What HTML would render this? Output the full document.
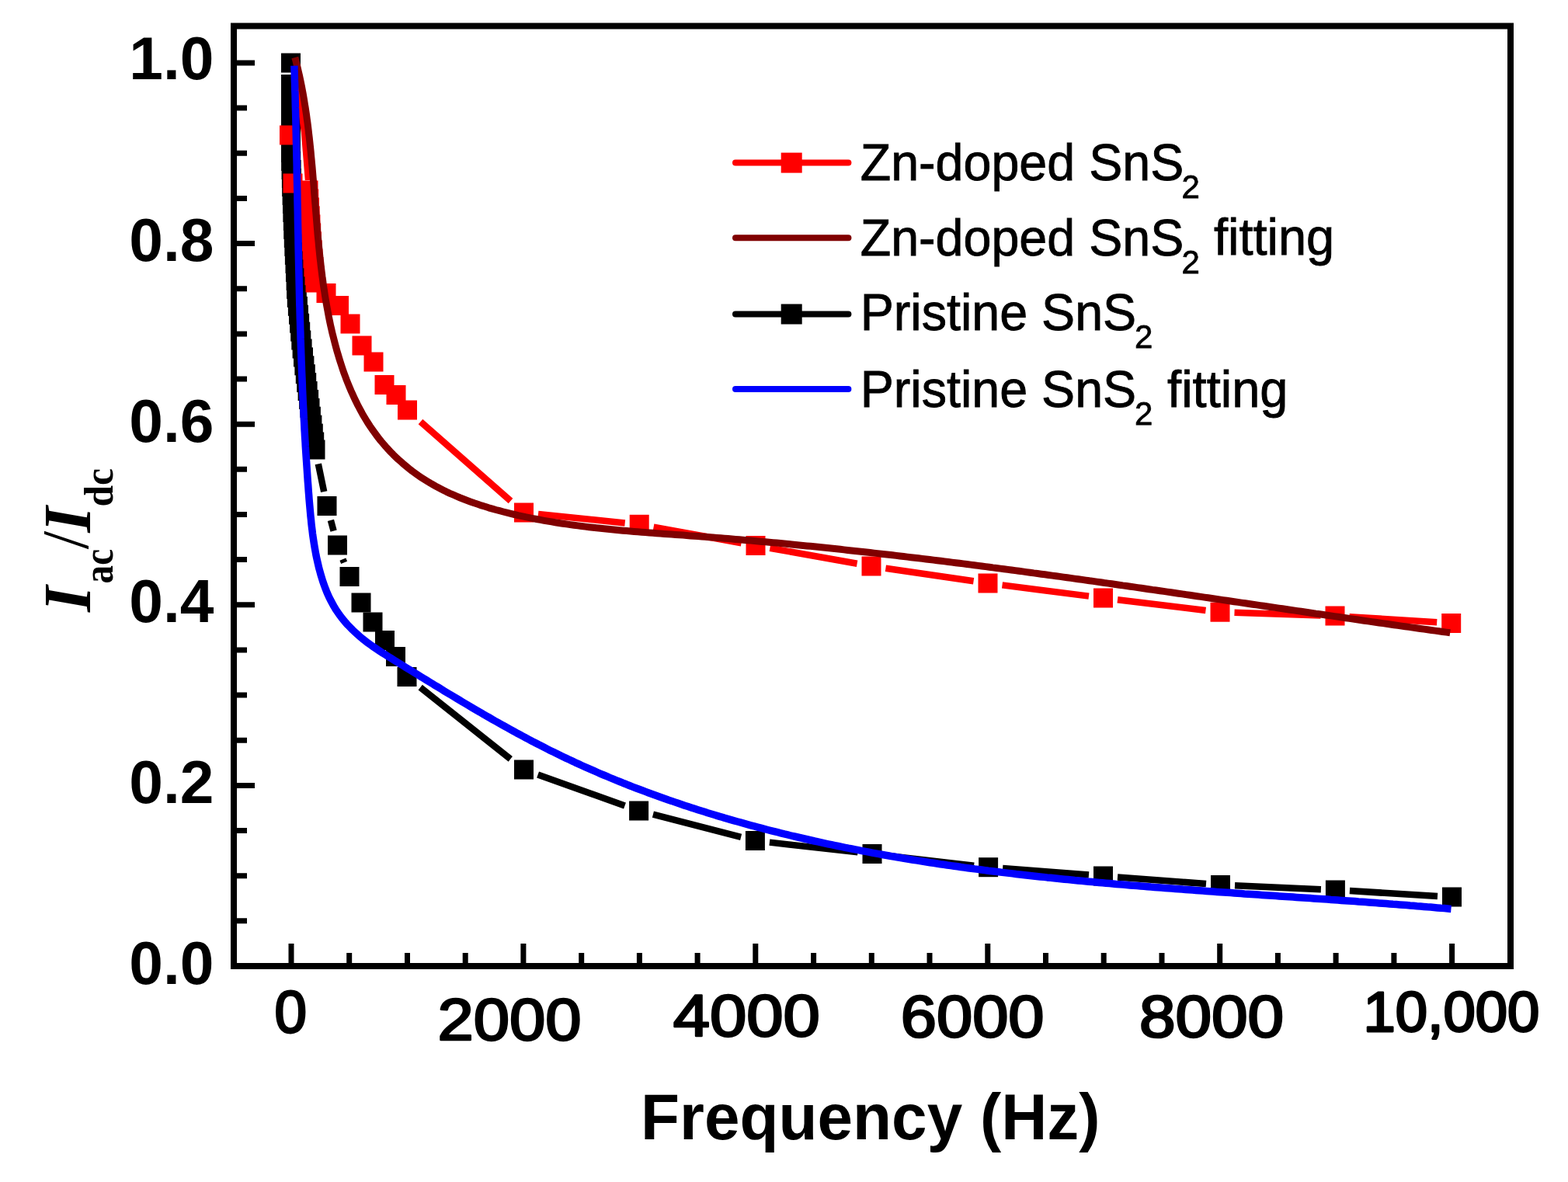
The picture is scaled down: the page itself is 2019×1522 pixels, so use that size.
<!DOCTYPE html>
<html><head><meta charset="utf-8"><title>Iac/Idc vs Frequency</title>
<style>html,body{margin:0;padding:0;background:#fff;}svg{display:block;}</style>
</head><body>
<svg width="2019" height="1522" viewBox="0 0 2019 1522">
<rect width="2019" height="1522" fill="#fff"/>
<rect x="301" y="33.5" width="1644" height="1210.5" fill="none" stroke="#000" stroke-width="8"/>
<path d="M301 1244.0 H328 M301 1185.8 H318 M301 1127.7 H318 M301 1069.5 H318 M301 1011.4 H328 M301 953.2 H318 M301 895.1 H318 M301 837.0 H318 M301 778.8 H328 M301 720.6 H318 M301 662.5 H318 M301 604.3 H318 M301 546.2 H328 M301 488.0 H318 M301 429.9 H318 M301 371.8 H318 M301 313.6 H328 M301 255.4 H318 M301 197.3 H318 M301 139.1 H318 M301 81.0 H328 M375.0 1244 V1215 M449.7 1244 V1227 M524.5 1244 V1227 M599.2 1244 V1227 M673.9 1244 V1215 M748.7 1244 V1227 M823.4 1244 V1227 M898.1 1244 V1227 M972.8 1244 V1215 M1047.6 1244 V1227 M1122.3 1244 V1227 M1197.0 1244 V1227 M1271.8 1244 V1215 M1346.5 1244 V1227 M1421.2 1244 V1227 M1496.0 1244 V1227 M1570.7 1244 V1215 M1645.4 1244 V1227 M1720.1 1244 V1227 M1794.9 1244 V1227 M1869.6 1244 V1215" stroke="#000" stroke-width="7" fill="none"/>
<text x="275.5" y="102.2" font-family="&quot;Liberation Sans&quot;, Arial, sans-serif" font-weight="bold" font-size="78.5" text-anchor="end">1.0</text>
<text x="275.5" y="335.7" font-family="&quot;Liberation Sans&quot;, Arial, sans-serif" font-weight="bold" font-size="78.5" text-anchor="end">0.8</text>
<text x="275.5" y="568.6" font-family="&quot;Liberation Sans&quot;, Arial, sans-serif" font-weight="bold" font-size="78.5" text-anchor="end">0.6</text>
<text x="275.5" y="801.0" font-family="&quot;Liberation Sans&quot;, Arial, sans-serif" font-weight="bold" font-size="78.5" text-anchor="end">0.4</text>
<text x="275.5" y="1033.8" font-family="&quot;Liberation Sans&quot;, Arial, sans-serif" font-weight="bold" font-size="78.5" text-anchor="end">0.2</text>
<text x="275.5" y="1267.2" font-family="&quot;Liberation Sans&quot;, Arial, sans-serif" font-weight="bold" font-size="78.5" text-anchor="end">0.0</text>
<text x="563.4" y="1339.3" font-family="&quot;Liberation Sans&quot;, Arial, sans-serif" font-size="75.5" textLength="185.0" lengthAdjust="spacingAndGlyphs" stroke="#000" stroke-width="2.6" stroke-linejoin="round">2000</text>
<text x="866.8" y="1333.7" font-family="&quot;Liberation Sans&quot;, Arial, sans-serif" font-size="75.5" textLength="189.1" lengthAdjust="spacingAndGlyphs" stroke="#000" stroke-width="2.6" stroke-linejoin="round">4000</text>
<text x="1159.8" y="1335.0" font-family="&quot;Liberation Sans&quot;, Arial, sans-serif" font-size="75.5" textLength="184.7" lengthAdjust="spacingAndGlyphs" stroke="#000" stroke-width="2.6" stroke-linejoin="round">6000</text>
<text x="1466.9" y="1334.6" font-family="&quot;Liberation Sans&quot;, Arial, sans-serif" font-size="75.5" textLength="186.3" lengthAdjust="spacingAndGlyphs" stroke="#000" stroke-width="2.6" stroke-linejoin="round">8000</text>
<text x="353.6" y="1329.4" font-family="&quot;Liberation Sans&quot;, Arial, sans-serif" font-size="76" textLength="41.5" lengthAdjust="spacingAndGlyphs" stroke="#000" stroke-width="2.8" stroke-linejoin="round">0</text>
<text x="1755.4" y="1327.8" font-family="&quot;Liberation Sans&quot;, Arial, sans-serif" font-size="72.5" textLength="227.0" lengthAdjust="spacingAndGlyphs" stroke="#000" stroke-width="2.8" stroke-linejoin="round">10,000</text>
<text x="825.0" y="1466.5" font-family="&quot;Liberation Sans&quot;, Arial, sans-serif" font-weight="bold" font-size="83.5" textLength="591.6" lengthAdjust="spacingAndGlyphs">Frequency (Hz)</text>
<text transform="translate(116.3 788.0) rotate(-90)" font-family="&quot;Liberation Serif&quot;, &quot;Times New Roman&quot;, serif" font-weight="bold" font-style="italic" font-size="86">I</text>
<text transform="translate(144.7 751.4) rotate(-90)" font-family="&quot;Liberation Serif&quot;, &quot;Times New Roman&quot;, serif" font-weight="bold" font-size="54" textLength="44.5" lengthAdjust="spacingAndGlyphs">ac</text>
<text transform="translate(112.6 707.3) rotate(-90)" font-family="&quot;Liberation Serif&quot;, &quot;Times New Roman&quot;, serif" font-size="85">/</text>
<text transform="translate(116.3 685.8) rotate(-90)" font-family="&quot;Liberation Serif&quot;, &quot;Times New Roman&quot;, serif" font-weight="bold" font-style="italic" font-size="86">I</text>
<text transform="translate(144.7 652.5) rotate(-90)" font-family="&quot;Liberation Serif&quot;, &quot;Times New Roman&quot;, serif" font-weight="bold" font-size="52" textLength="49.5" lengthAdjust="spacingAndGlyphs">dc</text>
<path d="M409.8 597.4 L417.2 633.1 M425.9 669.8 L429.6 683.7 M441.4 720.1 L443.1 724.4 M541.2 885.2 L657.3 977.3 M692.6 997.5 L804.5 1037.5 M840.9 1048.7 L954.1 1077.8 M990.9 1084.6 L1104.5 1097.4 M1141.5 1101.6 L1254.1 1114.6 M1291.1 1118.1 L1402.0 1126.6 M1439.0 1129.4 L1553.0 1138.1 M1590.0 1140.3 L1700.9 1145.2 M1737.9 1147.1 L1851.0 1153.9" stroke="#000000" stroke-width="8.5" fill="none" stroke-linecap="butt"/>
<rect x="362.0" y="68.5" width="25" height="25" fill="#000000"/>
<rect x="362.0" y="96.0" width="25" height="25" fill="#000000"/>
<rect x="362.0" y="107.0" width="25" height="25" fill="#000000"/>
<rect x="362.0" y="118.0" width="25" height="25" fill="#000000"/>
<rect x="362.0" y="129.0" width="25" height="25" fill="#000000"/>
<rect x="362.0" y="140.0" width="25" height="25" fill="#000000"/>
<rect x="362.0" y="151.0" width="25" height="25" fill="#000000"/>
<rect x="362.0" y="162.0" width="25" height="25" fill="#000000"/>
<rect x="362.0" y="173.0" width="25" height="25" fill="#000000"/>
<rect x="362.0" y="184.0" width="25" height="25" fill="#000000"/>
<rect x="362.2" y="195.0" width="25" height="25" fill="#000000"/>
<rect x="362.6" y="206.0" width="25" height="25" fill="#000000"/>
<rect x="362.9" y="217.0" width="25" height="25" fill="#000000"/>
<rect x="363.2" y="228.0" width="25" height="25" fill="#000000"/>
<rect x="363.6" y="239.0" width="25" height="25" fill="#000000"/>
<rect x="364.0" y="250.0" width="25" height="25" fill="#000000"/>
<rect x="364.4" y="261.0" width="25" height="25" fill="#000000"/>
<rect x="364.9" y="271.9" width="25" height="25" fill="#000000"/>
<rect x="365.3" y="282.9" width="25" height="25" fill="#000000"/>
<rect x="365.8" y="293.9" width="25" height="25" fill="#000000"/>
<rect x="366.4" y="304.9" width="25" height="25" fill="#000000"/>
<rect x="366.9" y="315.9" width="25" height="25" fill="#000000"/>
<rect x="367.5" y="326.9" width="25" height="25" fill="#000000"/>
<rect x="368.0" y="337.9" width="25" height="25" fill="#000000"/>
<rect x="368.6" y="348.9" width="25" height="25" fill="#000000"/>
<rect x="369.1" y="359.8" width="25" height="25" fill="#000000"/>
<rect x="369.8" y="370.8" width="25" height="25" fill="#000000"/>
<rect x="370.9" y="381.8" width="25" height="25" fill="#000000"/>
<rect x="372.0" y="392.7" width="25" height="25" fill="#000000"/>
<rect x="373.1" y="403.7" width="25" height="25" fill="#000000"/>
<rect x="374.2" y="414.6" width="25" height="25" fill="#000000"/>
<rect x="375.3" y="425.5" width="25" height="25" fill="#000000"/>
<rect x="376.6" y="436.5" width="25" height="25" fill="#000000"/>
<rect x="378.0" y="447.4" width="25" height="25" fill="#000000"/>
<rect x="379.4" y="458.3" width="25" height="25" fill="#000000"/>
<rect x="380.8" y="469.2" width="25" height="25" fill="#000000"/>
<rect x="382.2" y="480.1" width="25" height="25" fill="#000000"/>
<rect x="383.6" y="491.0" width="25" height="25" fill="#000000"/>
<rect x="385.1" y="501.9" width="25" height="25" fill="#000000"/>
<rect x="386.5" y="512.8" width="25" height="25" fill="#000000"/>
<rect x="387.9" y="523.7" width="25" height="25" fill="#000000"/>
<rect x="389.4" y="534.6" width="25" height="25" fill="#000000"/>
<rect x="390.8" y="545.6" width="25" height="25" fill="#000000"/>
<rect x="392.2" y="556.5" width="25" height="25" fill="#000000"/>
<rect x="393.5" y="566.5" width="25" height="25" fill="#000000"/>
<rect x="408.5" y="639.0" width="25" height="25" fill="#000000"/>
<rect x="422.0" y="689.5" width="25" height="25" fill="#000000"/>
<rect x="437.5" y="730.0" width="25" height="25" fill="#000000"/>
<rect x="452.5" y="763.5" width="25" height="25" fill="#000000"/>
<rect x="467.5" y="788.5" width="25" height="25" fill="#000000"/>
<rect x="483.0" y="812.0" width="25" height="25" fill="#000000"/>
<rect x="497.0" y="833.0" width="25" height="25" fill="#000000"/>
<rect x="511.5" y="859.0" width="25" height="25" fill="#000000"/>
<rect x="662.0" y="978.5" width="25" height="25" fill="#000000"/>
<rect x="810.1" y="1031.5" width="25" height="25" fill="#000000"/>
<rect x="959.9" y="1070.0" width="25" height="25" fill="#000000"/>
<rect x="1110.5" y="1087.0" width="25" height="25" fill="#000000"/>
<rect x="1260.1" y="1104.2" width="25" height="25" fill="#000000"/>
<rect x="1408.0" y="1115.5" width="25" height="25" fill="#000000"/>
<rect x="1559.0" y="1127.0" width="25" height="25" fill="#000000"/>
<rect x="1706.9" y="1133.5" width="25" height="25" fill="#000000"/>
<rect x="1857.0" y="1142.5" width="25" height="25" fill="#000000"/>
<path d="M381 90 L392 170 L397 232" stroke="#ff0000" stroke-width="8.5" fill="none"/>
<rect x="360.0" y="161.5" width="25" height="25" fill="#ff0000"/>
<rect x="364.5" y="223.5" width="25" height="25" fill="#ff0000"/>
<path d="M541.5 543.0 L657.5 645.0 M693.0 661.9 L804.7 673.4 M841.6 678.6 L954.6 699.2 M991.4 705.8 L1103.6 725.7 M1140.4 731.7 L1253.6 748.3 M1290.5 753.4 L1402.0 767.6 M1439.0 772.2 L1552.5 786.0 M1589.5 788.8 L1700.5 792.4 M1737.5 794.2 L1850.2 801.3" stroke="#ff0000" stroke-width="8.5" fill="none" stroke-linecap="butt"/>
<rect x="384.5" y="232.5" width="25" height="25" fill="#ff0000"/>
<rect x="385.2" y="243.5" width="25" height="25" fill="#ff0000"/>
<rect x="386.0" y="254.5" width="25" height="25" fill="#ff0000"/>
<rect x="386.7" y="265.4" width="25" height="25" fill="#ff0000"/>
<rect x="387.4" y="276.4" width="25" height="25" fill="#ff0000"/>
<rect x="388.2" y="287.4" width="25" height="25" fill="#ff0000"/>
<rect x="388.9" y="298.4" width="25" height="25" fill="#ff0000"/>
<rect x="389.6" y="309.3" width="25" height="25" fill="#ff0000"/>
<rect x="390.4" y="320.3" width="25" height="25" fill="#ff0000"/>
<rect x="391.4" y="331.3" width="25" height="25" fill="#ff0000"/>
<rect x="392.5" y="342.2" width="25" height="25" fill="#ff0000"/>
<rect x="393.5" y="351.5" width="25" height="25" fill="#ff0000"/>
<rect x="407.5" y="365.0" width="25" height="25" fill="#ff0000"/>
<rect x="424.0" y="381.0" width="25" height="25" fill="#ff0000"/>
<rect x="438.5" y="404.5" width="25" height="25" fill="#ff0000"/>
<rect x="453.5" y="432.5" width="25" height="25" fill="#ff0000"/>
<rect x="468.5" y="453.5" width="25" height="25" fill="#ff0000"/>
<rect x="482.5" y="483.0" width="25" height="25" fill="#ff0000"/>
<rect x="497.5" y="496.0" width="25" height="25" fill="#ff0000"/>
<rect x="512.0" y="515.5" width="25" height="25" fill="#ff0000"/>
<rect x="662.0" y="647.5" width="25" height="25" fill="#ff0000"/>
<rect x="810.7" y="662.8" width="25" height="25" fill="#ff0000"/>
<rect x="960.5" y="690.0" width="25" height="25" fill="#ff0000"/>
<rect x="1109.5" y="716.5" width="25" height="25" fill="#ff0000"/>
<rect x="1259.5" y="738.5" width="25" height="25" fill="#ff0000"/>
<rect x="1408.0" y="757.5" width="25" height="25" fill="#ff0000"/>
<rect x="1558.5" y="775.7" width="25" height="25" fill="#ff0000"/>
<rect x="1706.5" y="780.5" width="25" height="25" fill="#ff0000"/>
<rect x="1856.2" y="790.0" width="25" height="25" fill="#ff0000"/>
<path d="M379.8 74.0 L381.0 78.5 L382.1 83.1 L383.3 87.7 L384.3 92.3 L385.4 96.9 L386.4 101.5 L387.4 106.1 L388.3 110.7 L389.2 115.4 L390.1 120.1 L390.9 124.7 L391.7 129.4 L392.4 134.1 L393.2 138.8 L393.9 143.5 L394.6 148.2 L395.2 152.9 L395.9 157.7 L396.5 162.4 L397.1 167.2 L397.6 171.9 L398.2 176.7 L398.7 181.4 L399.2 186.2 L399.7 191.0 L400.2 195.8 L400.6 200.6 L401.1 205.4 L401.5 210.2 L402.0 215.0 L402.4 219.9 L402.8 224.7 L403.2 229.5 L403.6 234.3 L404.0 239.2 L404.4 244.0 L404.7 248.9 L405.1 253.7 L405.5 258.6 L405.9 263.4 L406.3 268.3 L406.7 273.1 L407.1 278.0 L407.5 282.9 L407.9 287.7 L408.3 292.6 L408.7 297.5 L409.1 302.3 L409.6 307.2 L410.1 312.1 L410.5 316.9 L411.0 321.8 L411.5 326.7 L412.0 331.6 L412.6 336.4 L413.1 341.3 L413.7 346.2 L414.3 351.0 L414.9 355.9 L415.6 360.7 L416.2 365.6 L416.9 370.4 L417.7 375.3 L418.4 380.1 L419.2 385.0 L420.0 389.8 L420.9 394.7 L421.8 399.5 L422.7 404.3 L423.6 409.1 L424.6 414.0 L425.6 418.8 L426.7 423.6 L427.8 428.4 L429.0 433.2 L430.2 437.9 L431.4 442.7 L432.7 447.5 L434.0 452.2 L435.4 456.9 L436.8 461.6 L438.3 466.3 L439.8 471.0 L441.3 475.6 L442.9 480.2 L444.6 484.8 L446.3 489.4 L448.1 493.9 L450.0 498.4 L451.8 502.8 L453.8 507.2 L455.8 511.6 L457.9 516.0 L460.0 520.3 L462.2 524.5 L464.4 528.7 L466.7 532.9 L469.1 537.0 L471.5 541.0 L474.0 545.0 L476.6 549.0 L479.3 552.9 L482.0 556.7 L484.8 560.5 L487.6 564.2 L490.5 567.9 L493.5 571.4 L496.6 575.0 L499.7 578.4 L502.9 581.8 L506.2 585.2 L509.5 588.4 L512.9 591.6 L516.4 594.7 L519.9 597.8 L523.5 600.8 L527.1 603.7 L530.8 606.6 L534.6 609.3 L538.4 612.1 L542.2 614.7 L546.2 617.3 L550.2 619.8 L554.2 622.2 L558.3 624.5 L562.4 626.8 L566.6 629.0 L570.9 631.2 L575.1 633.3 L579.4 635.3 L583.8 637.2 L588.2 639.1 L592.6 641.0 L597.1 642.8 L601.6 644.5 L606.2 646.2 L610.7 647.8 L615.3 649.3 L619.9 650.9 L624.6 652.3 L629.2 653.8 L633.9 655.1 L638.6 656.5 L643.3 657.7 L648.1 659.0 L652.8 660.2 L657.6 661.4 L662.4 662.5 L667.1 663.6 L671.9 664.6 L676.7 665.7 L681.5 666.6 L686.3 667.6 L691.1 668.5 L695.9 669.4 L700.7 670.3 L705.5 671.1 L710.3 671.9 L715.1 672.7 L719.9 673.5 L724.7 674.2 L729.5 674.9 L734.3 675.6 L739.2 676.3 L744.0 676.9 L748.8 677.5 L753.6 678.1 L758.5 678.7 L763.3 679.3 L768.1 679.8 L773.0 680.3 L777.8 680.8 L782.6 681.3 L787.5 681.8 L792.3 682.3 L797.1 682.7 L802.0 683.2 L806.8 683.6 L811.7 684.0 L816.5 684.4 L821.3 684.8 L826.2 685.2 L831.0 685.6 L835.9 685.9 L840.7 686.3 L845.6 686.7 L850.4 687.0 L855.3 687.4 L860.1 687.7 L864.9 688.1 L869.8 688.4 L874.6 688.8 L879.5 689.1 L884.3 689.5 L889.2 689.9 L894.0 690.2 L898.8 690.6 L903.7 690.9 L908.5 691.3 L913.4 691.7 L918.2 692.1 L923.0 692.4 L927.9 692.8 L932.7 693.2 L937.5 693.6 L942.3 694.0 L947.2 694.4 L952.0 694.8 L956.8 695.2 L961.7 695.7 L966.5 696.1 L971.3 696.5 L976.1 696.9 L981.0 697.4 L985.8 697.8 L990.6 698.2 L995.4 698.7 L1000.2 699.1 L1005.1 699.6 L1009.9 700.0 L1014.7 700.5 L1019.5 701.0 L1024.3 701.4 L1029.1 701.9 L1033.9 702.4 L1038.8 702.9 L1043.6 703.3 L1048.4 703.8 L1053.2 704.3 L1058.0 704.8 L1062.8 705.3 L1067.6 705.8 L1072.4 706.3 L1077.2 706.8 L1082.0 707.3 L1086.8 707.9 L1091.6 708.4 L1096.4 708.9 L1101.2 709.4 L1106.0 709.9 L1110.9 710.5 L1115.7 711.0 L1120.5 711.5 L1125.3 712.1 L1130.0 712.6 L1134.8 713.2 L1139.6 713.7 L1144.4 714.3 L1149.2 714.8 L1154.0 715.4 L1158.8 716.0 L1163.6 716.5 L1168.4 717.1 L1173.2 717.7 L1178.0 718.2 L1182.8 718.8 L1187.6 719.4 L1192.4 720.0 L1197.2 720.5 L1202.0 721.1 L1206.8 721.7 L1211.5 722.3 L1216.3 722.9 L1221.1 723.5 L1225.9 724.1 L1230.7 724.7 L1235.5 725.3 L1240.3 725.9 L1245.1 726.5 L1249.8 727.1 L1254.6 727.7 L1259.4 728.4 L1264.2 729.0 L1269.0 729.6 L1273.8 730.2 L1278.5 730.9 L1283.3 731.5 L1288.1 732.1 L1292.9 732.7 L1297.7 733.4 L1302.5 734.0 L1307.2 734.6 L1312.0 735.3 L1316.8 735.9 L1321.6 736.6 L1326.4 737.2 L1331.1 737.9 L1335.9 738.5 L1340.7 739.2 L1345.5 739.8 L1350.3 740.5 L1355.0 741.1 L1359.8 741.8 L1364.6 742.4 L1369.4 743.1 L1374.2 743.8 L1378.9 744.4 L1383.7 745.1 L1388.5 745.8 L1393.3 746.4 L1398.1 747.1 L1402.8 747.8 L1407.6 748.4 L1412.4 749.1 L1417.2 749.8 L1421.9 750.5 L1426.7 751.1 L1431.5 751.8 L1436.3 752.5 L1441.1 753.2 L1445.8 753.9 L1450.6 754.5 L1455.4 755.2 L1460.2 755.9 L1464.9 756.6 L1469.7 757.3 L1474.5 758.0 L1479.3 758.7 L1484.0 759.4 L1488.8 760.0 L1493.6 760.7 L1498.4 761.4 L1503.2 762.1 L1507.9 762.8 L1512.7 763.5 L1517.5 764.2 L1522.3 764.9 L1527.1 765.6 L1531.8 766.3 L1536.6 767.0 L1541.4 767.7 L1546.2 768.4 L1550.9 769.1 L1555.7 769.8 L1560.5 770.5 L1565.3 771.2 L1570.1 771.9 L1574.8 772.6 L1579.6 773.3 L1584.4 774.0 L1589.2 774.7 L1594.0 775.4 L1598.7 776.1 L1603.5 776.8 L1608.3 777.5 L1613.1 778.2 L1617.9 778.9 L1622.7 779.6 L1627.4 780.3 L1632.2 781.0 L1637.0 781.7 L1641.8 782.4 L1646.6 783.1 L1651.4 783.8 L1656.1 784.5 L1660.9 785.2 L1665.7 785.9 L1670.5 786.6 L1675.3 787.3 L1680.1 788.0 L1684.9 788.8 L1689.7 789.5 L1694.4 790.2 L1699.2 790.8 L1704.0 791.5 L1708.8 792.2 L1713.6 792.9 L1718.4 793.6 L1723.2 794.3 L1728.0 795.0 L1732.8 795.7 L1737.6 796.4 L1742.4 797.1 L1747.2 797.8 L1752.0 798.5 L1756.7 799.2 L1761.5 799.9 L1766.3 800.6 L1771.1 801.3 L1775.9 802.0 L1780.7 802.6 L1785.5 803.3 L1790.3 804.0 L1795.1 804.7 L1799.9 805.4 L1804.7 806.1 L1809.5 806.7 L1814.3 807.4 L1819.1 808.1 L1823.9 808.8 L1828.8 809.5 L1833.6 810.1 L1838.4 810.8 L1843.2 811.5 L1848.0 812.1 L1852.8 812.8 L1857.6 813.5 L1862.4 814.1 L1867.2 814.8" stroke="#800000" stroke-width="9" fill="none" stroke-linejoin="round"/>
<path d="M378.9 84.7 L379.0 89.2 L379.2 93.7 L379.3 98.2 L379.4 102.7 L379.6 107.2 L379.7 111.7 L379.8 116.2 L380.0 120.7 L380.1 125.2 L380.2 129.7 L380.3 134.2 L380.4 138.7 L380.6 143.2 L380.7 147.7 L380.8 152.2 L380.9 156.6 L381.0 161.1 L381.1 165.6 L381.2 170.1 L381.3 174.5 L381.4 179.0 L381.5 183.5 L381.6 188.0 L381.7 192.4 L381.8 196.9 L381.9 201.4 L382.0 205.8 L382.1 210.3 L382.2 214.7 L382.2 219.2 L382.3 223.7 L382.4 228.1 L382.5 232.6 L382.6 237.0 L382.7 241.5 L382.8 245.9 L382.9 250.4 L382.9 254.8 L383.0 259.3 L383.1 263.7 L383.2 268.2 L383.3 272.6 L383.4 277.1 L383.4 281.5 L383.5 286.0 L383.6 290.4 L383.7 294.8 L383.8 299.3 L383.9 303.7 L384.0 308.2 L384.0 312.6 L384.1 317.0 L384.2 321.5 L384.3 325.9 L384.4 330.4 L384.5 334.8 L384.6 339.2 L384.7 343.7 L384.8 348.1 L384.9 352.5 L385.0 357.0 L385.1 361.4 L385.2 365.9 L385.3 370.3 L385.4 374.7 L385.5 379.2 L385.6 383.6 L385.7 388.0 L385.8 392.5 L386.0 396.9 L386.1 401.4 L386.2 405.8 L386.3 410.2 L386.5 414.7 L386.6 419.1 L386.7 423.5 L386.9 428.0 L387.0 432.4 L387.1 436.9 L387.3 441.3 L387.4 445.7 L387.6 450.2 L387.7 454.6 L387.9 459.1 L388.0 463.5 L388.2 468.0 L388.4 472.4 L388.5 476.8 L388.7 481.3 L388.9 485.7 L389.1 490.2 L389.3 494.6 L389.4 499.1 L389.6 503.5 L389.8 508.0 L390.0 512.5 L390.2 516.9 L390.4 521.4 L390.7 525.8 L390.9 530.3 L391.1 534.7 L391.3 539.2 L391.6 543.7 L391.8 548.1 L392.0 552.6 L392.3 557.1 L392.5 561.5 L392.8 566.0 L393.1 570.5 L393.3 575.0 L393.6 579.4 L393.9 583.9 L394.2 588.4 L394.5 592.9 L394.8 597.3 L395.1 601.8 L395.4 606.3 L395.7 610.8 L396.0 615.3 L396.3 619.8 L396.7 624.3 L397.0 628.8 L397.3 633.3 L397.7 637.8 L398.0 642.3 L398.4 646.8 L398.8 651.3 L399.2 655.8 L399.6 660.3 L400.0 664.8 L400.5 669.3 L400.9 673.8 L401.4 678.3 L402.0 682.8 L402.5 687.3 L403.1 691.7 L403.8 696.2 L404.5 700.7 L405.2 705.1 L406.0 709.5 L406.8 714.0 L407.7 718.4 L408.7 722.8 L409.7 727.1 L410.7 731.5 L411.9 735.8 L413.1 740.1 L414.4 744.4 L415.7 748.6 L417.2 752.8 L418.7 757.0 L420.3 761.1 L422.0 765.1 L423.8 769.1 L425.8 773.0 L427.8 776.8 L429.9 780.6 L432.1 784.3 L434.5 787.9 L436.9 791.4 L439.5 794.8 L442.2 798.2 L444.9 801.5 L447.8 804.7 L450.8 807.8 L453.8 810.9 L457.0 813.9 L460.2 816.8 L463.5 819.7 L466.8 822.5 L470.3 825.2 L473.8 827.9 L477.4 830.5 L481.0 833.0 L484.7 835.5 L488.4 838.0 L492.1 840.4 L495.9 842.8 L499.7 845.2 L503.5 847.6 L507.3 850.0 L511.1 852.3 L515.0 854.7 L518.8 857.0 L522.6 859.4 L526.4 861.7 L530.2 864.1 L534.1 866.5 L537.9 868.8 L541.7 871.2 L545.5 873.5 L549.4 875.9 L553.2 878.2 L557.0 880.5 L560.8 882.9 L564.7 885.2 L568.5 887.5 L572.3 889.9 L576.1 892.2 L580.0 894.5 L583.8 896.8 L587.7 899.1 L591.5 901.4 L595.3 903.7 L599.2 906.0 L603.0 908.3 L606.9 910.6 L610.7 912.8 L614.6 915.1 L618.5 917.3 L622.3 919.6 L626.2 921.8 L630.1 924.0 L634.0 926.3 L637.8 928.5 L641.7 930.7 L645.6 932.9 L649.5 935.0 L653.4 937.2 L657.3 939.4 L661.2 941.5 L665.1 943.7 L669.1 945.8 L673.0 947.9 L676.9 950.0 L680.9 952.1 L684.8 954.2 L688.8 956.2 L692.7 958.3 L696.7 960.3 L700.6 962.3 L704.6 964.4 L708.6 966.4 L712.6 968.3 L716.6 970.3 L720.6 972.3 L724.6 974.2 L728.6 976.1 L732.7 978.0 L736.7 979.9 L740.7 981.8 L744.8 983.6 L748.8 985.5 L752.9 987.3 L757.0 989.1 L761.0 990.9 L765.1 992.7 L769.2 994.5 L773.3 996.3 L777.4 998.0 L781.5 999.7 L785.6 1001.5 L789.7 1003.2 L793.8 1004.8 L798.0 1006.5 L802.1 1008.2 L806.3 1009.8 L810.4 1011.5 L814.5 1013.1 L818.7 1014.7 L822.9 1016.3 L827.0 1017.8 L831.2 1019.4 L835.4 1021.0 L839.6 1022.5 L843.8 1024.0 L847.9 1025.5 L852.1 1027.0 L856.3 1028.5 L860.5 1030.0 L864.8 1031.4 L869.0 1032.9 L873.2 1034.3 L877.4 1035.7 L881.6 1037.2 L885.9 1038.5 L890.1 1039.9 L894.3 1041.3 L898.6 1042.7 L902.8 1044.0 L907.1 1045.3 L911.3 1046.7 L915.6 1048.0 L919.8 1049.3 L924.1 1050.6 L928.4 1051.8 L932.6 1053.1 L936.9 1054.3 L941.2 1055.6 L945.5 1056.8 L949.7 1058.0 L954.0 1059.2 L958.3 1060.4 L962.6 1061.6 L966.9 1062.8 L971.2 1063.9 L975.5 1065.1 L979.8 1066.2 L984.1 1067.3 L988.4 1068.5 L992.7 1069.6 L997.0 1070.7 L1001.3 1071.7 L1005.6 1072.8 L1009.9 1073.9 L1014.3 1074.9 L1018.6 1076.0 L1022.9 1077.0 L1027.2 1078.0 L1031.6 1079.0 L1035.9 1080.0 L1040.2 1081.0 L1044.6 1082.0 L1048.9 1083.0 L1053.2 1083.9 L1057.6 1084.9 L1061.9 1085.8 L1066.3 1086.8 L1070.6 1087.7 L1075.0 1088.6 L1079.3 1089.5 L1083.7 1090.4 L1088.1 1091.3 L1092.4 1092.2 L1096.8 1093.0 L1101.2 1093.9 L1105.5 1094.7 L1109.9 1095.6 L1114.3 1096.4 L1118.6 1097.2 L1123.0 1098.1 L1127.4 1098.9 L1131.8 1099.7 L1136.2 1100.5 L1140.5 1101.2 L1144.9 1102.0 L1149.3 1102.8 L1153.7 1103.5 L1158.1 1104.3 L1162.5 1105.0 L1166.9 1105.8 L1171.3 1106.5 L1175.7 1107.2 L1180.1 1107.9 L1184.5 1108.6 L1188.9 1109.3 L1193.3 1110.0 L1197.7 1110.7 L1202.1 1111.3 L1206.5 1112.0 L1210.9 1112.7 L1215.3 1113.3 L1219.7 1114.0 L1224.2 1114.6 L1228.6 1115.2 L1233.0 1115.8 L1237.4 1116.5 L1241.8 1117.1 L1246.3 1117.7 L1250.7 1118.3 L1255.1 1118.9 L1259.5 1119.4 L1264.0 1120.0 L1268.4 1120.6 L1272.8 1121.2 L1277.3 1121.7 L1281.7 1122.3 L1286.1 1122.8 L1290.6 1123.4 L1295.0 1123.9 L1299.4 1124.4 L1303.9 1124.9 L1308.3 1125.5 L1312.8 1126.0 L1317.2 1126.5 L1321.6 1127.0 L1326.1 1127.5 L1330.5 1128.0 L1335.0 1128.5 L1339.4 1128.9 L1343.9 1129.4 L1348.3 1129.9 L1352.8 1130.3 L1357.2 1130.8 L1361.7 1131.3 L1366.1 1131.7 L1370.6 1132.2 L1375.0 1132.6 L1379.5 1133.0 L1383.9 1133.5 L1388.4 1133.9 L1392.8 1134.3 L1397.3 1134.8 L1401.7 1135.2 L1406.2 1135.6 L1410.7 1136.0 L1415.1 1136.4 L1419.6 1136.8 L1424.0 1137.2 L1428.5 1137.6 L1433.0 1138.0 L1437.4 1138.4 L1441.9 1138.7 L1446.3 1139.1 L1450.8 1139.5 L1455.3 1139.9 L1459.7 1140.2 L1464.2 1140.6 L1468.7 1141.0 L1473.1 1141.3 L1477.6 1141.7 L1482.0 1142.1 L1486.5 1142.4 L1491.0 1142.8 L1495.4 1143.1 L1499.9 1143.4 L1504.4 1143.8 L1508.8 1144.1 L1513.3 1144.5 L1517.7 1144.8 L1522.2 1145.1 L1526.7 1145.5 L1531.1 1145.8 L1535.6 1146.1 L1540.1 1146.5 L1544.5 1146.8 L1549.0 1147.1 L1553.5 1147.4 L1557.9 1147.7 L1562.4 1148.1 L1566.8 1148.4 L1571.3 1148.7 L1575.8 1149.0 L1580.2 1149.3 L1584.7 1149.6 L1589.2 1149.9 L1593.6 1150.2 L1598.1 1150.5 L1602.5 1150.9 L1607.0 1151.2 L1611.5 1151.5 L1615.9 1151.8 L1620.4 1152.1 L1624.8 1152.4 L1629.3 1152.7 L1633.7 1153.0 L1638.2 1153.3 L1642.7 1153.6 L1647.1 1153.9 L1651.6 1154.2 L1656.0 1154.5 L1660.5 1154.8 L1664.9 1155.1 L1669.4 1155.4 L1673.8 1155.7 L1678.3 1156.0 L1682.7 1156.3 L1687.2 1156.6 L1691.6 1156.9 L1696.1 1157.2 L1700.5 1157.5 L1704.9 1157.8 L1709.4 1158.1 L1713.8 1158.5 L1718.3 1158.8 L1722.7 1159.1 L1727.2 1159.4 L1731.6 1159.7 L1736.0 1160.0 L1740.5 1160.3 L1744.9 1160.6 L1749.3 1161.0 L1753.8 1161.3 L1758.2 1161.6 L1762.6 1161.9 L1767.1 1162.3 L1771.5 1162.6 L1775.9 1162.9 L1780.3 1163.2 L1784.8 1163.6 L1789.2 1163.9 L1793.6 1164.3 L1798.0 1164.6 L1802.4 1164.9 L1806.9 1165.3 L1811.3 1165.6 L1815.7 1166.0 L1820.1 1166.3 L1824.5 1166.7 L1828.9 1167.0 L1833.3 1167.4 L1837.7 1167.8 L1842.1 1168.1 L1846.5 1168.5 L1850.9 1168.9 L1855.3 1169.3 L1859.7 1169.6 L1864.1 1170.0 L1868.5 1170.4" stroke="#0000ff" stroke-width="9.5" fill="none" stroke-linejoin="round"/>
<path d="M947 209.6 H1092.4" stroke="#ff0000" stroke-width="8" stroke-linecap="round"/>
<rect x="1005.7" y="196.6" width="27" height="26" fill="#ff0000"/>
<text x="1107.7" y="232.4" font-family="&quot;Liberation Sans&quot;, Arial, sans-serif" font-size="67.5" textLength="416.6" lengthAdjust="spacingAndGlyphs" stroke="#000" stroke-width="0.9">Zn-doped SnS</text>
<text x="1521.6" y="255.4" font-family="&quot;Liberation Sans&quot;, Arial, sans-serif" font-size="42" stroke="#000" stroke-width="0.8">2</text>
<path d="M947 306.2 H1092.4" stroke="#800000" stroke-width="8" stroke-linecap="round"/>
<text x="1107.7" y="328.5" font-family="&quot;Liberation Sans&quot;, Arial, sans-serif" font-size="67.5" textLength="416.6" lengthAdjust="spacingAndGlyphs" stroke="#000" stroke-width="0.9">Zn-doped SnS</text>
<text x="1521.6" y="351.5" font-family="&quot;Liberation Sans&quot;, Arial, sans-serif" font-size="42" stroke="#000" stroke-width="0.8">2</text>
<text x="1562.9" y="328.0" font-family="&quot;Liberation Sans&quot;, Arial, sans-serif" font-size="67.5" textLength="155.4" lengthAdjust="spacingAndGlyphs" stroke="#000" stroke-width="0.9">fitting</text>
<path d="M947 404.5 H1092.4" stroke="#000000" stroke-width="8" stroke-linecap="round"/>
<rect x="1005.7" y="391.5" width="27" height="26" fill="#000000"/>
<text x="1107.7" y="425.4" font-family="&quot;Liberation Sans&quot;, Arial, sans-serif" font-size="67.5" textLength="355.5" lengthAdjust="spacingAndGlyphs" stroke="#000" stroke-width="0.9">Pristine SnS</text>
<text x="1460.9" y="448.4" font-family="&quot;Liberation Sans&quot;, Arial, sans-serif" font-size="42" stroke="#000" stroke-width="0.8">2</text>
<path d="M947 501.1 H1092.4" stroke="#0000ff" stroke-width="8" stroke-linecap="round"/>
<text x="1107.7" y="524.4" font-family="&quot;Liberation Sans&quot;, Arial, sans-serif" font-size="67.5" textLength="355.5" lengthAdjust="spacingAndGlyphs" stroke="#000" stroke-width="0.9">Pristine SnS</text>
<text x="1460.9" y="547.4" font-family="&quot;Liberation Sans&quot;, Arial, sans-serif" font-size="42" stroke="#000" stroke-width="0.8">2</text>
<text x="1503.1" y="523.9" font-family="&quot;Liberation Sans&quot;, Arial, sans-serif" font-size="67.5" textLength="155.4" lengthAdjust="spacingAndGlyphs" stroke="#000" stroke-width="0.9">fitting</text>
</svg>
</body></html>
